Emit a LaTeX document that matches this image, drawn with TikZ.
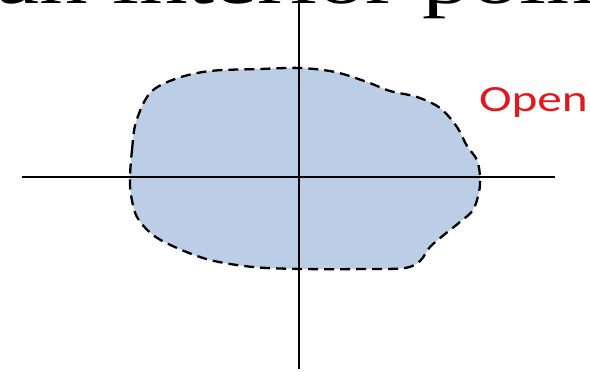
\documentclass[tikz,border=0pt]{standalone}
\usepackage{fontspec}
\setmainfont{Liberation Serif}
\newfontfamily\labelfont{Carlito}
\usepackage{tikz}
\usetikzlibrary{positioning,calc}
\definecolor{RegionBlue}{RGB}{188,206,229}
\definecolor{OpenRed}{RGB}{228,24,28}
\begin{document}
\begin{tikzpicture}[x=1pt,y=-1pt,every node/.style={inner sep=0pt,outer sep=0pt}]
\tikzset{axis/.style={draw=black,line width=1.6pt},region/.style={fill=RegionBlue,draw=black,line width=2.3pt,dash pattern=on 10pt off 6pt}}
\useasboundingbox (0,0) rectangle (590,372);
\clip (0,0) rectangle (590,372);
% title, cut off at the top
\node[anchor=base west,xscale=1.35,font=\fontsize{72}{76}\selectfont] (title) at (-4,3) {an interior point};
% the open set
\path[region] plot[smooth cycle,tension=0.55] coordinates {(130,177) (132,150) (136,122) (150,93) (175,79) (210,71) (260,69) (300,68) (335,72) (367,82) (390,91) (417,97) (440,108) (457,127) (467,146) (477,160) (480,177) (479,192) (473,210) (460,222) (445,234) (430,247) (420,261) (405,268) (370,269) (303,269) (253,267) (210,260) (177,248) (153,235) (137,217) (131,195)};
% axes
\coordinate (xl) at (22,177);
\coordinate (xr) at (555,177);
\coordinate (yt) at (299,0);
\coordinate (yb) at (299,369);
\draw[axis] (xl) -- (xr);
\draw[axis] (yt) -- (yb);
\node[anchor=base west,xscale=1.33,text=OpenRed,font=\labelfont\fontsize{37}{37}\selectfont] (open) at (479,111) {Open};
\end{tikzpicture}
\end{document}
